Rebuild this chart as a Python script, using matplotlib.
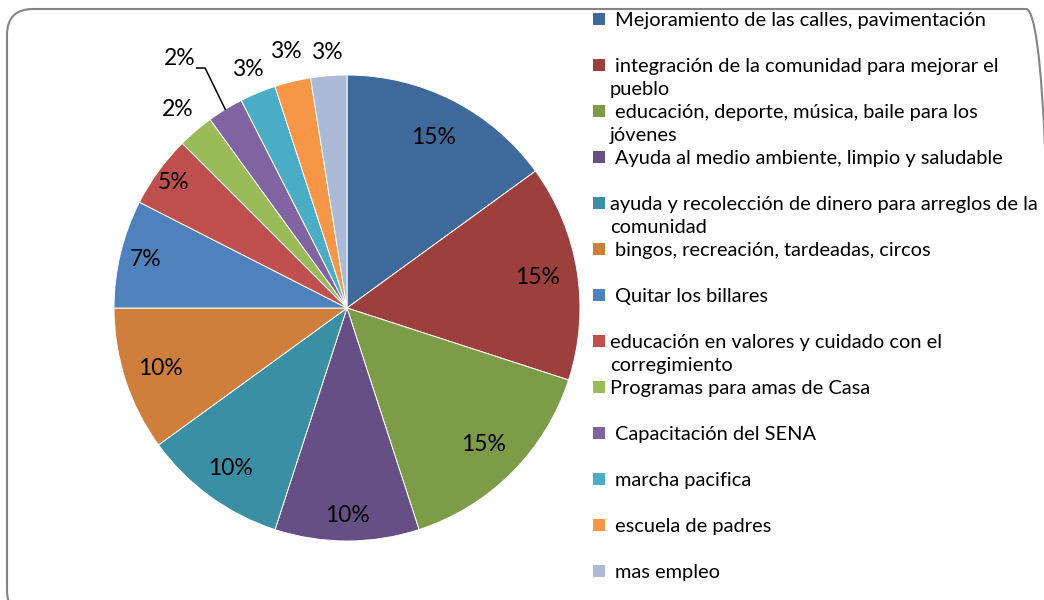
import textwrap
import matplotlib
matplotlib.use("Agg")
import matplotlib.pyplot as plt
import numpy as np
from matplotlib.patches import FancyBboxPatch, Rectangle
from matplotlib.lines import Line2D

categories = [
    " Mejoramiento de las calles, pavimentación",
    " integración de la comunidad para mejorar el pueblo",
    " educación, deporte, música, baile para los jóvenes",
    " Ayuda al medio ambiente, limpio y saludable",
    "ayuda y recolección de dinero para arreglos de la comunidad",
    " bingos, recreación, tardeadas, circos",
    " Quitar los billares",
    "educación en valores y cuidado con el corregimiento",
    "Programas para amas de Casa",
    " Capacitación del SENA",
    " marcha pacifica",
    " escuela de padres",
    " mas empleo",
]
values = [15, 15, 15, 10, 10, 10, 7.5, 5, 2.5, 2.5, 2.5, 2.5, 2.5]
pct_labels = ["15%", "15%", "15%", "10%", "10%", "10%", "7%", "5%",
              "2%", "2%", "3%", "3%", "3%"]
colors = ["#3D6A9B", "#9D3F3C", "#7E9B48", "#664F85", "#3A8FA5", "#CF7F3B",
          "#4F81BD", "#C0504D", "#9BBB59", "#8064A2", "#4BACC6", "#F79646",
          "#AABAD7"]

plt.rcParams['font.family'] = ['Lato', 'DejaVu Sans']

W, H = 1044, 600
fig = plt.figure(figsize=(W / 100, H / 100), dpi=100)

# rounded chart border
border = FancyBboxPatch((0.07, -0.16), 10.45, 5.91 + 0.16,
                        boxstyle="round,pad=0,rounding_size=0.26",
                        transform=fig.dpi_scale_trans, facecolor="none",
                        edgecolor="#858585", linewidth=1.5, zorder=0)
fig.patches.append(border)

cx, cy, R = 347, 308, 233
ax = fig.add_axes([(cx - R) / W, (H - cy - R) / H, 2 * R / W, 2 * R / H])
ax.patch.set_visible(False)
wedges, _ = ax.pie(values, colors=colors, startangle=90, counterclock=False,
                   radius=1, wedgeprops=dict(linewidth=0.7, edgecolor="white"))
ax.set_xlim(-1, 1)
ax.set_ylim(-1, 1)
ax.set_aspect("equal")
ax.axis("off")

label_r = [0.82, 0.83, 0.83, 0.89, 0.85, 0.84, 0.89, 0.92, 1.12, 1.29, 1.11, 1.13, 1.10]
label_dang = [0, 0, 0, 0, 0, 0, 0, 0, 0, 2.3, 0, 0, 0]
for i, w in enumerate(wedges):
    mid = np.deg2rad((w.theta1 + w.theta2) / 2)
    ang = mid + np.deg2rad(label_dang[i])
    x, y = label_r[i] * np.cos(ang), label_r[i] * np.sin(ang)
    ax.text(x, y, pct_labels[i], ha="center", va="center", fontsize=16.5,
            color="black", clip_on=False)
    if i == 9:
        ex, ey = np.cos(mid), np.sin(mid)
        elbow_x, elbow_y = -0.609, 1.030
        ax.add_line(Line2D([ex, elbow_x, elbow_x - 0.036], [ey, elbow_y, elbow_y],
                           color="black", linewidth=1.1, clip_on=False))

# legend (Excel-style, marker aligned with first text line)
y0, dy, line_h = 19, 46.0, 23
for i, (cat, col) in enumerate(zip(categories, colors)):
    yc = y0 + i * dy
    fig.patches.append(Rectangle(((593) / W, 1 - (yc + 6) / H), 12 / W, 12 / H,
                                 transform=fig.transFigure, facecolor=col,
                                 edgecolor="none"))
    lines = textwrap.wrap(cat, width=49)
    for j, ln in enumerate(lines):
        xs = 615 if (j == 0 and cat.startswith(" ")) else 610
        fig.text(xs / W, 1 - (yc + j * line_h) / H, ln.strip(), ha="left",
                 va="center_baseline", fontsize=14.4, color="black")

fig.savefig("out.png", dpi=100)
